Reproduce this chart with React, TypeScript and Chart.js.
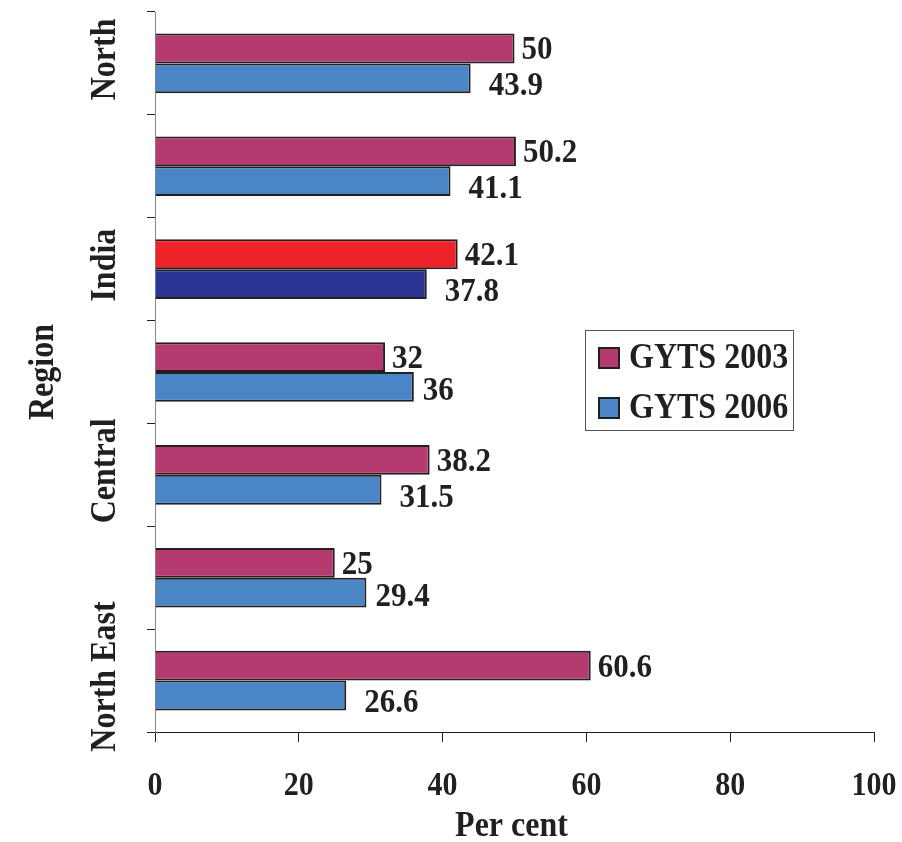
import React, { useEffect, useRef } from "react";
import { Chart, registerables } from "chart.js";

Chart.register(...registerables);

const categories = ["North", "", "India", "", "Central", "", "North East"];
const gyts2003 = [50, 50.2, 42.1, 32, 38.2, 25, 60.6];
const gyts2006 = [43.9, 41.1, 37.8, 36, 31.5, 29.4, 26.6];
const xTicks = [0, 20, 40, 60, 80, 100];
const seriesNames = ["GYTS 2003", "GYTS 2006"];
const highlightCategory = "India";

const MAGENTA = "#B53A6F";
const BLUE = "#4A86C6";
const RED = "#EE2229";
const NAVY = "#2B3593";
const INK = "#231F20";
const FONT = '"Liberation Serif", "Times New Roman", serif';
const STRETCH = 1.12;

function drawText(ctx: any, text: string, x: number, y: number, size: number, align: string, rotate = false) {
  ctx.save();
  ctx.translate(x, y);
  if (rotate) ctx.rotate(-Math.PI / 2);
  ctx.scale(1, STRETCH);
  ctx.font = `bold ${size}px ${FONT}`;
  ctx.textAlign = align;
  ctx.textBaseline = "middle";
  ctx.fillStyle = INK;
  ctx.fillText(text, 0, 0);
  ctx.restore();
}

export default function App() {
  const ref = useRef<HTMLCanvasElement | null>(null);

  useEffect(() => {
    if (!ref.current) return;

    const labelPlugin = {
      id: "customText",
      afterDatasetsDraw(chart: any) {
        const ctx = chart.ctx;
        const m0 = chart.getDatasetMeta(0);
        const m1 = chart.getDatasetMeta(1);
        m0.data.forEach((bar: any, i: number) => {
          drawText(ctx, String(gyts2003[i]), bar.x + 7, bar.y + 2, 31, "left");
        });
        m1.data.forEach((bar: any, i: number) => {
          const shifted = gyts2003[i] > gyts2006[i];
          drawText(ctx, String(gyts2006[i]), bar.x + (shifted ? 18 : 9), bar.y + (shifted ? 8 : 4), 31, "left");
        });
      },
      afterDraw(chart: any) {
        const ctx = chart.ctx;
        const yScale = chart.scales.y;
        const xScale = chart.scales.x;
        const area = chart.chartArea;
        categories.forEach((c, i) => {
          if (!c) return;
          drawText(ctx, c, 106, yScale.getPixelForValue(i) - 4, 32, "center", true);
        });
        xTicks.forEach((v) => {
          drawText(ctx, String(v), xScale.getPixelForValue(v), 786, 30, "center");
        });
        drawText(ctx, "Region", 44, 372, 32, "center", true);
        drawText(ctx, "Per cent", (area.left + area.right) / 2 - 3, 827, 32, "center");
        const lx = 585, ly = 330, lw = 208, lh = 100;
        ctx.save();
        ctx.fillStyle = "#ffffff";
        ctx.fillRect(lx, ly, lw, lh);
        ctx.strokeStyle = "#555555";
        ctx.lineWidth = 1;
        ctx.strokeRect(lx + 0.5, ly + 0.5, lw, lh);
        const cols = [MAGENTA, BLUE];
        seriesNames.forEach((name, i) => {
          const cy = 358 + i * 50;
          ctx.fillStyle = cols[i];
          ctx.fillRect(599, cy - 10, 20, 20);
          ctx.strokeStyle = INK;
          ctx.lineWidth = 2;
          ctx.strokeRect(599, cy - 10, 20, 20);
          drawText(ctx, name, 629, cy + 1, 32, "left");
        });
        ctx.restore();
      },
    };

    const chart = new Chart(ref.current, {
      type: "bar",
      data: {
        labels: categories,
        datasets: [
          {
            label: seriesNames[0],
            data: gyts2003,
            backgroundColor: categories.map((c) => (c === highlightCategory ? RED : MAGENTA)),
            borderColor: INK,
            borderWidth: 2,
            categoryPercentage: 0.58,
            barPercentage: 1,
          },
          {
            label: seriesNames[1],
            data: gyts2006,
            backgroundColor: categories.map((c) => (c === highlightCategory ? NAVY : BLUE)),
            borderColor: INK,
            borderWidth: 2,
            categoryPercentage: 0.58,
            barPercentage: 1,
          },
        ],
      },
      options: {
        indexAxis: "y",
        responsive: false,
        animation: false,
        layout: { padding: { top: 12, right: 28, left: 0, bottom: 0 } },
        plugins: {
          legend: { display: false },
          tooltip: { enabled: false },
        },
        scales: {
          x: {
            min: 0,
            max: 100,
            afterBuildTicks: (s: any) => {
              s.ticks = xTicks.map((v) => ({ value: v }));
            },
            afterFit: (s: any) => {
              s.height = 110;
              s.paddingRight = 0;
              s.paddingLeft = 0;
            },
            grid: {
              drawOnChartArea: false,
              drawTicks: true,
              tickLength: 10,
              color: INK,
            },
            border: { display: true, color: INK, width: 1 },
            ticks: { display: false },
          },
          y: {
            afterFit: (s: any) => {
              s.width = 155;
            },
            grid: {
              offset: true,
              drawOnChartArea: false,
              drawTicks: true,
              tickLength: 8,
              color: INK,
            },
            border: { display: true, color: "#8a8a8a", width: 1 },
            ticks: { display: false },
          },
        },
      },
      plugins: [labelPlugin],
    } as any);

    return () => chart.destroy();
  }, []);

  return (
    <div style={{ position: "absolute", left: 0, top: 0, width: 902, height: 842, background: "#fff" }}>
      <canvas ref={ref} width={902} height={842} style={{ display: "block" }} />
    </div>
  );
}
